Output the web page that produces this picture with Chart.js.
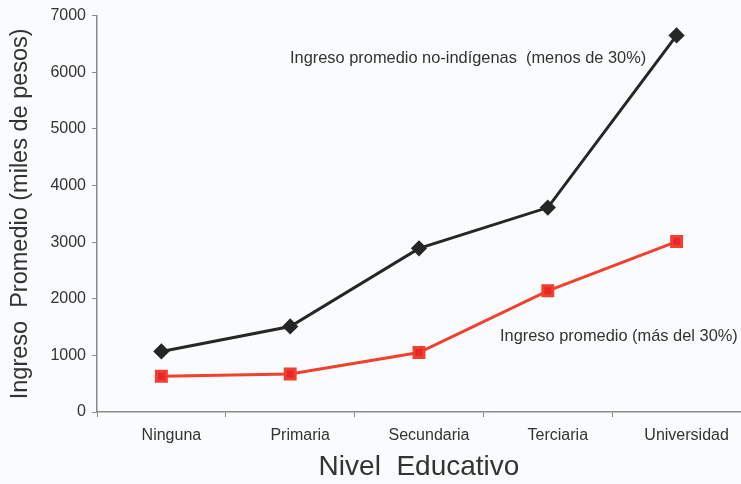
<!DOCTYPE html>
<html>
<head>
<meta charset="utf-8">
<script src="https://cdn.jsdelivr.net/npm/chart.js@4.4.1/dist/chart.umd.min.js"></script>
<style>
  html, body { margin: 0; padding: 0; background: #fafbfc; }
  #wrap { width: 741px; height: 484px; }
</style>
</head>
<body>
<div id="wrap"><canvas id="chart"></canvas></div>
<script>
const niveles = ["Ninguna", "Primaria", "Secundaria", "Terciaria", "Universidad"];
const noIndigenas = [1070, 1510, 2890, 3610, 6650];
const masDel30 = [630, 670, 1050, 2140, 3010];
const yTicks = [0, 1000, 2000, 3000, 4000, 5000, 6000, 7000];

const labelNoIndigenas = "Ingreso promedio no-indígenas  (menos de 30%)";
const labelMasDel30 = "Ingreso promedio (más del 30%)";

const fontFamily = "'Liberation Sans', Arial, sans-serif";

// series captions written inside the plot, next to their lines
const seriesLabels = {
  id: "seriesLabels",
  afterDatasetsDraw(chart) {
    const { ctx, chartArea } = chart;
    ctx.save();
    ctx.font = "16.4px " + fontFamily;
    ctx.fillStyle = "#333";
    ctx.textBaseline = "middle";
    ctx.textAlign = "left";
    ctx.fillText(labelNoIndigenas, chartArea.left + 193, chartArea.top + 43);
    ctx.fillText(labelMasDel30, chartArea.left + 403, chartArea.top + 321);
    ctx.restore();
  }
};

new Chart(document.getElementById("chart"), {
  type: "line",
  data: {
    labels: niveles,
    datasets: [
      {
        label: labelNoIndigenas,
        data: noIndigenas,
        borderColor: "#262626",
        backgroundColor: "#262626",
        borderWidth: 3,
        pointStyle: "rectRot",
        pointRadius: 6,
        pointHoverRadius: 6,
        tension: 0
      },
      {
        label: labelMasDel30,
        data: masDel30,
        borderColor: "#f0402e",
        backgroundColor: "#e8262a",
        borderWidth: 3,
        pointStyle: "rect",
        pointRadius: 7,
        pointHoverRadius: 7,
        tension: 0
      }
    ]
  },
  options: {
    responsive: true,
    maintainAspectRatio: false,
    animation: false,
    layout: { autoPadding: false, padding: { top: 14, right: 0, left: 0, bottom: 0 } },
    plugins: {
      legend: { display: false },
      tooltip: { enabled: false }
    },
    scales: {
      x: {
        offset: true,
        grid: {
          offset: true,
          drawOnChartArea: false,
          drawTicks: true,
          tickLength: 5,
          color: "#8a8a8a"
        },
        border: { color: "#8a8a8a", width: 1.5 },
        ticks: {
          color: "#333",
          font: { size: 16, family: fontFamily },
          padding: 9,
          labelOffset: 10,
          maxRotation: 0
        },
        title: {
          display: true,
          text: "Nivel  Educativo",
          color: "#333",
          font: { size: 28, family: fontFamily },
          padding: { top: 2, bottom: 0 }
        },
        afterFit: axis => {
          axis.height = 72;
          axis.paddingLeft = 0;
          axis.paddingRight = 0;
        }
      },
      y: {
        min: 0,
        max: 7000,
        afterBuildTicks: axis => { axis.ticks = yTicks.map(v => ({ value: v })); },
        grid: {
          drawOnChartArea: false,
          drawTicks: true,
          tickLength: 5,
          color: "#8a8a8a"
        },
        border: { color: "#8a8a8a", width: 1.5 },
        ticks: {
          color: "#333",
          font: { size: 16, family: fontFamily },
          padding: 6,
          callback: v => String(v)
        },
        title: {
          display: true,
          text: "Ingreso  Promedio (miles de pesos)",
          color: "#333",
          font: { size: 23.5, family: fontFamily },
          padding: { top: 6, bottom: 0 }
        },
        afterFit: axis => { axis.width = 97; }
      }
    }
  },
  plugins: [seriesLabels]
});
</script>
</body>
</html>
